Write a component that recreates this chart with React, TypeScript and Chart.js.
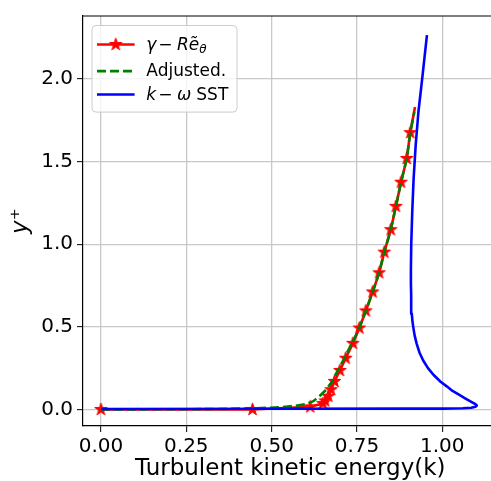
import React, { useEffect, useRef } from "react";
import { Chart, registerables } from "chart.js";

Chart.register(...registerables);

// ---- data ----
const redX = [0.0, 0.444, 0.613, 0.650, 0.657, 0.666, 0.674, 0.684, 0.700, 0.717, 0.738, 0.757, 0.776, 0.796, 0.815, 0.830, 0.849, 0.864, 0.879, 0.896, 0.906, 0.920];
const redY = [0.0, 0.0, 0.016, 0.036, 0.052, 0.080, 0.120, 0.170, 0.236, 0.310, 0.400, 0.493, 0.597, 0.711, 0.827, 0.952, 1.088, 1.229, 1.375, 1.519, 1.675, 1.830];

const greenX = [0.0, 0.30, 0.45, 0.525, 0.57, 0.60, 0.622, 0.640, 0.660, 0.677, 0.694, 0.713, 0.735, 0.757, 0.776, 0.796, 0.815, 0.830, 0.849, 0.864, 0.879, 0.896, 0.906, 0.918];
const greenY = [0.0, 0.002, 0.006, 0.014, 0.022, 0.032, 0.050, 0.080, 0.120, 0.170, 0.236, 0.310, 0.400, 0.493, 0.597, 0.711, 0.827, 0.952, 1.088, 1.229, 1.375, 1.519, 1.675, 1.800];

const blueX = [0.0, 0.5, 0.9, 1.0, 1.06, 1.085, 1.097, 1.101, 1.097, 1.085, 1.068, 1.050, 1.030, 1.013, 0.995, 0.974, 0.958, 0.944, 0.933, 0.925, 0.919, 0.915, 0.9125, 0.9105, 0.9092, 0.9084, 0.908, 0.908, 0.909, 0.912, 0.916, 0.922, 0.930, 0.941, 0.955];
const blueY = [0.003, 0.004, 0.005, 0.005, 0.007, 0.010, 0.016, 0.024, 0.032, 0.046, 0.066, 0.088, 0.112, 0.140, 0.168, 0.210, 0.250, 0.296, 0.345, 0.397, 0.447, 0.497, 0.535, 0.580, 0.630, 0.690, 0.760, 0.850, 1.000, 1.200, 1.400, 1.600, 1.800, 2.000, 2.265];

const xTicks = [0, 0.25, 0.5, 0.75, 1.0];
const yTicks = [0, 0.5, 1.0, 1.5, 2.0];
const X_MIN = -0.0527;
const X_MAX = 1.162;
const Y_MIN = -0.1;
const Y_MAX = 2.381;

const FAMILY = '"DejaVu Sans", sans-serif';

function makeStar(size: number, color: string, R: number) {
  const c = document.createElement("canvas");
  c.width = size;
  c.height = size;
  const g = c.getContext("2d")!;
  const cx = size / 2, cy = size / 2, r = R * 0.382;
  g.beginPath();
  for (let i = 0; i < 10; i++) {
    const rad = i % 2 === 0 ? R : r;
    const a = -Math.PI / 2 + (i * Math.PI) / 5;
    const px = cx + rad * Math.cos(a), py = cy + rad * Math.sin(a);
    if (i === 0) g.moveTo(px, py); else g.lineTo(px, py);
  }
  g.closePath();
  g.fillStyle = color;
  g.fill();
  g.strokeStyle = color;
  g.lineWidth = 1;
  g.lineJoin = "miter";
  g.stroke();
  return c;
}

const topSpine = {
  id: "topSpine",
  afterDraw(chart: any) {
    const { ctx, chartArea } = chart;
    ctx.save();
    ctx.strokeStyle = "#000";
    ctx.lineWidth = 1.2;
    ctx.beginPath();
    ctx.moveTo(chartArea.left - 0.6, chartArea.top);
    ctx.lineTo(chartArea.right, chartArea.top);
    ctx.stroke();
    ctx.restore();
  },
};

function mplLegend(star: HTMLCanvasElement) {
  return {
    id: "mplLegend",
    afterDraw(chart: any) {
      const { ctx, chartArea } = chart;
      const bx = chartArea.left + 9;
      const by = chartArea.top + 9.5;
      const bw = 145, bh = 86.6, rr = 4;
      ctx.save();
      ctx.beginPath();
      ctx.moveTo(bx + rr, by);
      ctx.lineTo(bx + bw - rr, by);
      ctx.arcTo(bx + bw, by, bx + bw, by + rr, rr);
      ctx.lineTo(bx + bw, by + bh - rr);
      ctx.arcTo(bx + bw, by + bh, bx + bw - rr, by + bh, rr);
      ctx.lineTo(bx + rr, by + bh);
      ctx.arcTo(bx, by + bh, bx, by + bh - rr, rr);
      ctx.lineTo(bx, by + rr);
      ctx.arcTo(bx, by, bx + rr, by, rr);
      ctx.closePath();
      ctx.fillStyle = "rgba(255,255,255,0.8)";
      ctx.fill();
      ctx.strokeStyle = "#cccccc";
      ctx.lineWidth = 1;
      ctx.stroke();

      const lx0 = bx + 5, lx1 = bx + 42.6;
      const rows = [by + 19, by + 45.6, by + 69];
      // red
      ctx.lineWidth = 2.6;
      ctx.strokeStyle = "#ff0000";
      ctx.setLineDash([]);
      ctx.beginPath(); ctx.moveTo(lx0, rows[0]); ctx.lineTo(lx1, rows[0]); ctx.stroke();
      ctx.drawImage(star, (lx0 + lx1) / 2 - star.width / 2, rows[0] - star.height / 2);
      // green
      ctx.strokeStyle = "#008000";
      ctx.setLineDash([9, 4]);
      ctx.beginPath(); ctx.moveTo(lx0, rows[1]); ctx.lineTo(lx1, rows[1]); ctx.stroke();
      // blue
      ctx.setLineDash([]);
      ctx.strokeStyle = "#0000ff";
      ctx.beginPath(); ctx.moveTo(lx0, rows[2]); ctx.lineTo(lx1, rows[2]); ctx.stroke();

      const tx = bx + 54.3;
      ctx.fillStyle = "#000";
      ctx.textBaseline = "alphabetic";
      ctx.textAlign = "left";
      const it = `italic 17px ${FAMILY}`;
      const rg = `17px ${FAMILY}`;
      // row 1: γ − R ẽ θ
      let b = by + 24.6;
      ctx.font = it; ctx.fillText("γ", tx, b);
      ctx.font = rg; ctx.fillText("−", tx + 12, b);
      ctx.font = it; ctx.fillText("R", tx + 30.7, b);
      const rw = ctx.measureText("R").width;
      ctx.fillText("ẽ", tx + 30.7 + rw, b);
      const ew = ctx.measureText("ẽ").width;
      ctx.font = `italic 12px ${FAMILY}`;
      ctx.fillText("θ", tx + 30.7 + rw + ew, b + 3);
      // row 2
      b = by + 50.6;
      ctx.font = rg; ctx.fillText("Adjusted.", tx, b);
      // row 3: k − ω SST
      b = by + 74.6;
      ctx.font = it; ctx.fillText("k", tx, b);
      ctx.font = rg; ctx.fillText("−", tx + 12, b);
      ctx.font = it; ctx.fillText("ω", tx + 30.7, b);
      ctx.font = rg; ctx.fillText("SST", tx + 50, b);
      ctx.restore();
    },
  };
}

export default function App() {
  const ref = useRef<HTMLCanvasElement | null>(null);
  useEffect(() => {
    if (!ref.current) return;
    const star = makeStar(15, "#ff0000", 6.6);
    const toPts = (xs: number[], ys: number[]) => xs.map((x, i) => ({ x, y: ys[i] }));
    const tickFont = { size: 20, family: FAMILY };
    const chart = new Chart(ref.current, {
      type: "line",
      data: {
        datasets: [
          {
            label: "γ − Rẽθ",
            data: toPts(redX, redY),
            borderColor: "#ff0000",
            backgroundColor: "#ff0000",
            borderWidth: 2.6,
            pointStyle: star as any,
            pointRadius: (c: any) => (c.dataIndex === redX.length - 1 ? 0 : 6),
            tension: 0,
            fill: false,
            order: 3,
          },
          {
            label: "Adjusted.",
            data: toPts(greenX, greenY),
            borderColor: "#008000",
            borderWidth: 2.6,
            borderDash: [9, 4],
            pointRadius: 0,
            tension: 0,
            fill: false,
            order: 2,
          },
          {
            label: "k − ω SST",
            data: toPts(blueX, blueY),
            borderColor: "#0000ff",
            borderWidth: 2.6,
            borderJoinStyle: "round",
            pointRadius: 0,
            tension: 0,
            fill: false,
            order: 1,
          },
        ],
      },
      options: {
        animation: false,
        responsive: false,
        maintainAspectRatio: false,
        layout: { padding: { top: 13, right: 12.4, left: 0, bottom: 0 } },
        plugins: { legend: { display: false }, tooltip: { enabled: false } },
        scales: {
          x: {
            type: "linear",
            min: X_MIN,
            max: X_MAX,
            afterFit: (s: any) => { s.height = 55; },
            afterBuildTicks: (s: any) => { s.ticks = xTicks.map((v) => ({ value: v })); },
            ticks: {
              callback: (v: any) => Number(v).toFixed(2),
              font: tickFont,
              color: "#000",
              padding: 3,
              maxRotation: 0,
              autoSkip: false,
            },
            grid: { color: "#c8c8c8", lineWidth: 1.3, tickLength: 6, tickColor: "#000", tickWidth: 1 },
            border: { color: "#000", width: 1.2 },
            title: { display: true, text: "Turbulent kinetic energy(k)", font: { size: 23, family: FAMILY }, color: "#000", padding: { top: 0, bottom: -2 } },
          },
          y: {
            type: "linear",
            min: Y_MIN,
            max: Y_MAX,
            afterFit: (s: any) => { s.width = 83; },
            afterBuildTicks: (s: any) => { s.ticks = yTicks.map((v) => ({ value: v })); },
            ticks: {
              callback: (v: any) => Number(v).toFixed(1),
              font: tickFont,
              color: "#000",
              padding: 4,
              autoSkip: false,
            },
            grid: { color: "#c8c8c8", lineWidth: 1.3, tickLength: 6, tickColor: "#000", tickWidth: 1 },
            border: { color: "#000", width: 1.2 },
            title: { display: true, text: "y⁺", font: { size: 23, family: FAMILY, style: "italic" }, color: "#000", padding: { top: 7, bottom: 0 } },
          },
        },
      },
      plugins: [topSpine, mplLegend(star)],
    } as any);
    return () => chart.destroy();
  }, []);
  return (
    <div style={{ position: "fixed", left: 0, top: 0, width: 491, height: 481, overflow: "hidden", background: "#fff" }}>
      <canvas ref={ref} width={510} height={481} style={{ width: 510, height: 481, display: "block" }} />
    </div>
  );
}
